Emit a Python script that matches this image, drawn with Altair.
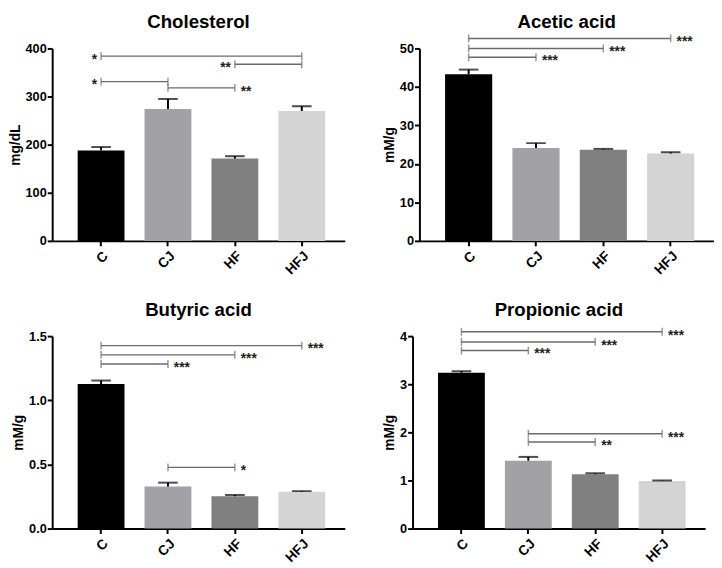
import altair as alt
import pandas as pd

groups = ["C", "CJ", "HF", "HFJ"]
colors = ["#000000", "#a1a1a6", "#808080", "#d4d4d4"]

chol_mean = [188, 274, 171, 270]
chol_sem = [7, 21, 5, 10]
acetic_mean = [43.3, 24.1, 23.7, 22.7]
acetic_sem = [1.2, 1.3, 0.2, 0.3]
butyric_mean = [1.126, 0.328, 0.252, 0.287]
butyric_sem = [0.028, 0.030, 0.010, 0.005]
propionic_mean = [3.24, 1.41, 1.13, 0.99]
propionic_sem = [0.03, 0.08, 0.02, 0.01]

# significance brackets: start, end, height, label, label side
chol_sig = [("C", "HFJ", 384, "*", "left"), ("HF", "HFJ", 367, "**", "left"),
            ("C", "CJ", 331, "*", "left"), ("CJ", "HF", 318, "**", "right")]
acetic_sig = [("C", "HFJ", 52.6, "***", "right"), ("C", "HF", 50.0, "***", "right"),
              ("C", "CJ", 47.7, "***", "right")]
butyric_sig = [("C", "HFJ", 1.426, "***", "right"), ("C", "HF", 1.354, "***", "right"),
               ("C", "CJ", 1.283, "***", "right"), ("CJ", "HF", 0.477, "*", "right")]
propionic_sig = [("C", "HFJ", 4.09, "***", "right"), ("C", "HF", 3.88, "***", "right"),
                 ("C", "CJ", 3.70, "***", "right"), ("CJ", "HFJ", 1.97, "***", "right"),
                 ("CJ", "HF", 1.80, "**", "right")]

FONT = "Liberation Sans"


def panel(title, ytitle, means, sems, sig, ymax, yvals, fmt, width):
    df = pd.DataFrame({"g": groups, "m": means, "top": [a + b for a, b in zip(means, sems)]})
    sdf = pd.DataFrame(sig, columns=["s", "e", "y", "lab", "side"])
    ends = pd.concat([sdf[["s", "y"]].rename(columns={"s": "g"}),
                      sdf[["e", "y"]].rename(columns={"e": "g"})])
    xscale = alt.Scale(paddingInner=0.3, paddingOuter=0.337, align=0.565)
    yscale = alt.Scale(domain=[0, ymax], nice=False)
    xaxis = alt.Axis(labelAngle=-45, labelFontSize=14, labelFontWeight="bold",
                     labelColor="black", domainColor="black", domainWidth=2,
                     tickColor="black", tickWidth=2, tickSize=5, labelPadding=3)
    yaxis = alt.Axis(values=yvals, format=fmt, grid=False, labelFontSize=13,
                     labelFontWeight="bold", labelColor="black", domainColor="black",
                     domainWidth=2, tickColor="black", tickWidth=2, tickSize=5,
                     labelPadding=1, titleFontSize=14, titleFontWeight="bold",
                     titleColor="black", titlePadding=3)
    xn = lambda f: alt.X(f, sort=groups, title=None, axis=xaxis, scale=xscale)
    yn = lambda f: alt.Y(f, title=ytitle, axis=yaxis, scale=yscale)
    base = alt.Chart(df)
    bars = base.mark_bar().encode(
        x=xn("g:N"), y=yn("m:Q"),
        color=alt.Color("g:N", scale=alt.Scale(domain=groups, range=colors), legend=None))
    err = base.mark_rule(color="black", strokeWidth=2).encode(
        x=xn("g:N"), y=yn("m:Q"), y2="top:Q")
    cap = base.mark_tick(color="black", thickness=2, size=20).encode(
        x=xn("g:N"), y=yn("top:Q"))
    br = alt.Chart(sdf).mark_rule(color="#6b6b6b", strokeWidth=1.5).encode(
        x=xn("s:N"), x2="e:N", y=yn("y:Q"))
    brt = alt.Chart(ends).mark_tick(color="#6b6b6b", thickness=1.5, size=8, orient="vertical").encode(
        x=xn("g:N"), y=yn("y:Q"))
    labl = alt.Chart(sdf[sdf.side == "left"]).mark_text(
        align="right", baseline="middle", dx=-4, dy=4, font=FONT, fontSize=14,
        fontWeight="bold", color="#222222").encode(
        x=xn("s:N"), y=yn("y:Q"), text="lab:N")
    labr = alt.Chart(sdf[sdf.side == "right"]).mark_text(
        align="left", baseline="middle", dx=6, dy=4, font=FONT, fontSize=14,
        fontWeight="bold", color="#222222").encode(
        x=xn("e:N"), y=yn("y:Q"), text="lab:N")
    ttl = alt.Chart(pd.DataFrame({"t": [title]})).mark_text(
        align="center", baseline="alphabetic", font=FONT, fontSize=19,
        fontWeight="bold", color="black").encode(
        x=alt.value(width / 2), y=alt.value(-21), text="t:N")
    return alt.layer(bars, err, cap, br, brt, labl, labr, ttl).properties(
        width=width, height=196)


p1 = panel("Cholesterol", "mg/dL", chol_mean, chol_sem, chol_sig, 400,
           [0, 100, 200, 300, 400], "d", 298)
p2 = panel("Acetic acid", "mM/g", acetic_mean, acetic_sem, acetic_sig, 50,
           [0, 10, 20, 30, 40, 50], "d", 300)
p3 = panel("Butyric acid", "mM/g", butyric_mean, butyric_sem, butyric_sig, 1.5,
           [0, 0.5, 1.0, 1.5], ".1f", 298)
p4 = panel("Propionic acid", "mM/g", propionic_mean, propionic_sem, propionic_sig, 4,
           [0, 1, 2, 3, 4], "d", 298)

chart = alt.vconcat(
    alt.hconcat(p1, p2, spacing=38),
    alt.hconcat(p3, p4, spacing=38),
    spacing=24,
).properties(padding=0).configure(font=FONT).configure_view(stroke=None)

chart.save("out.html", embed_options={"renderer": "svg", "actions": False})
